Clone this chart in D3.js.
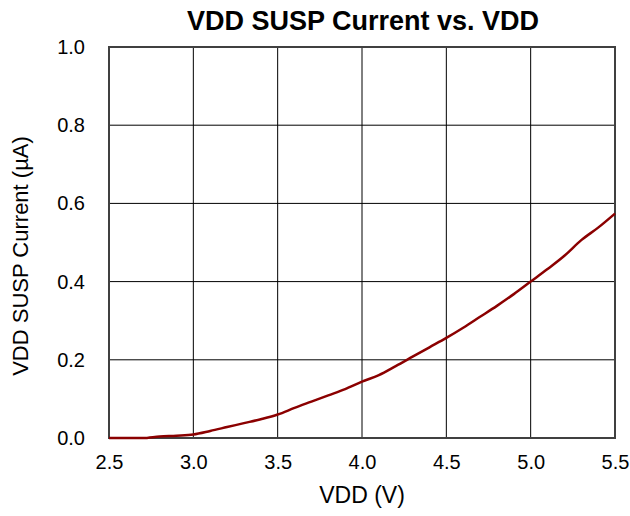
<!DOCTYPE html>
<html>
<head>
<meta charset="utf-8">
<script src="https://cdn.jsdelivr.net/npm/d3@7"></script>
<style>
  body { margin: 0; background: #fff; }
  text { font-family: "Liberation Sans", Arial, sans-serif; fill: #000; }
</style>
</head>
<body>
<div id="chart"></div>
<script>
// data
var vdd = [2.5, 2.6, 2.7, 2.8, 2.9, 3.0, 3.1, 3.2, 3.3, 3.4, 3.5, 3.6, 3.7, 3.8, 3.9, 4.0,
           4.1, 4.2, 4.3, 4.4, 4.5, 4.6, 4.7, 4.8, 4.9, 5.0, 5.1, 5.2, 5.3, 5.4, 5.5];
var current = [0.000, 0.000, 0.000, 0.004, 0.006, 0.009, 0.018, 0.028, 0.038, 0.048, 0.060,
               0.077, 0.093, 0.109, 0.125, 0.144, 0.161, 0.184, 0.208, 0.232, 0.256, 0.282,
               0.310, 0.338, 0.368, 0.400, 0.432, 0.466, 0.506, 0.538, 0.574];
var xTicks = [2.5, 3.0, 3.5, 4.0, 4.5, 5.0, 5.5];
var yTicks = [0.0, 0.2, 0.4, 0.6, 0.8, 1.0];

var width = 630, height = 516;
var plotLeft = 109, plotRight = 615, plotTop = 47, plotBottom = 438;

var svg = d3.select("#chart").append("svg")
    .attr("width", width)
    .attr("height", height);

var x = d3.scaleLinear().domain([2.5, 5.5]).range([plotLeft, plotRight]);
var y = d3.scaleLinear().domain([0, 1.0]).range([plotBottom, plotTop]);

// grid
svg.append("g").selectAll("line")
    .data(xTicks.slice(1, -1))
    .enter().append("line")
    .attr("x1", function(d) { return x(d); })
    .attr("x2", function(d) { return x(d); })
    .attr("y1", plotTop).attr("y2", plotBottom)
    .attr("stroke", "#000").attr("stroke-width", 1);

svg.append("g").selectAll("line")
    .data(yTicks.slice(1, -1))
    .enter().append("line")
    .attr("y1", function(d) { return y(d); })
    .attr("y2", function(d) { return y(d); })
    .attr("x1", plotLeft).attr("x2", plotRight)
    .attr("stroke", "#000").attr("stroke-width", 1);

// frame
svg.append("rect")
    .attr("x", plotLeft).attr("y", plotTop)
    .attr("width", plotRight - plotLeft).attr("height", plotBottom - plotTop)
    .attr("fill", "none")
    .attr("stroke", "#404040")
    .attr("stroke-width", 2);

// axes (labels only)
var xAxis = svg.append("g")
    .attr("transform", "translate(0," + plotBottom + ")")
    .call(d3.axisBottom(x).tickValues(xTicks).tickFormat(d3.format(".1f")).tickSize(0).tickPadding(17));
xAxis.select(".domain").remove();
xAxis.selectAll("text").style("font-size", "20px");

var yAxis = svg.append("g")
    .attr("transform", "translate(" + plotLeft + ",0)")
    .call(d3.axisLeft(y).tickValues(yTicks).tickFormat(d3.format(".1f")).tickSize(0).tickPadding(24));
yAxis.select(".domain").remove();
yAxis.selectAll("text").style("font-size", "20px");

// curve
var line = d3.line()
    .x(function(d, i) { return x(vdd[i]); })
    .y(function(d) { return y(d); })
    .curve(d3.curveMonotoneX);

svg.append("path")
    .datum(current)
    .attr("d", line)
    .attr("fill", "none")
    .attr("stroke", "#8b0000")
    .attr("stroke-width", 2.5);

// titles
svg.append("text")
    .attr("x", 363).attr("y", 30)
    .attr("text-anchor", "middle")
    .style("font-size", "27px")
    .style("font-weight", "bold")
    .text("VDD SUSP Current vs. VDD");

svg.append("text")
    .attr("x", 362).attr("y", 503)
    .attr("text-anchor", "middle")
    .style("font-size", "23px")
    .text("VDD (V)");

svg.append("text")
    .attr("transform", "translate(28,256) rotate(-90)")
    .attr("text-anchor", "middle")
    .style("font-size", "22px")
    .text("VDD SUSP Current (µA)");
</script>
</body>
</html>
